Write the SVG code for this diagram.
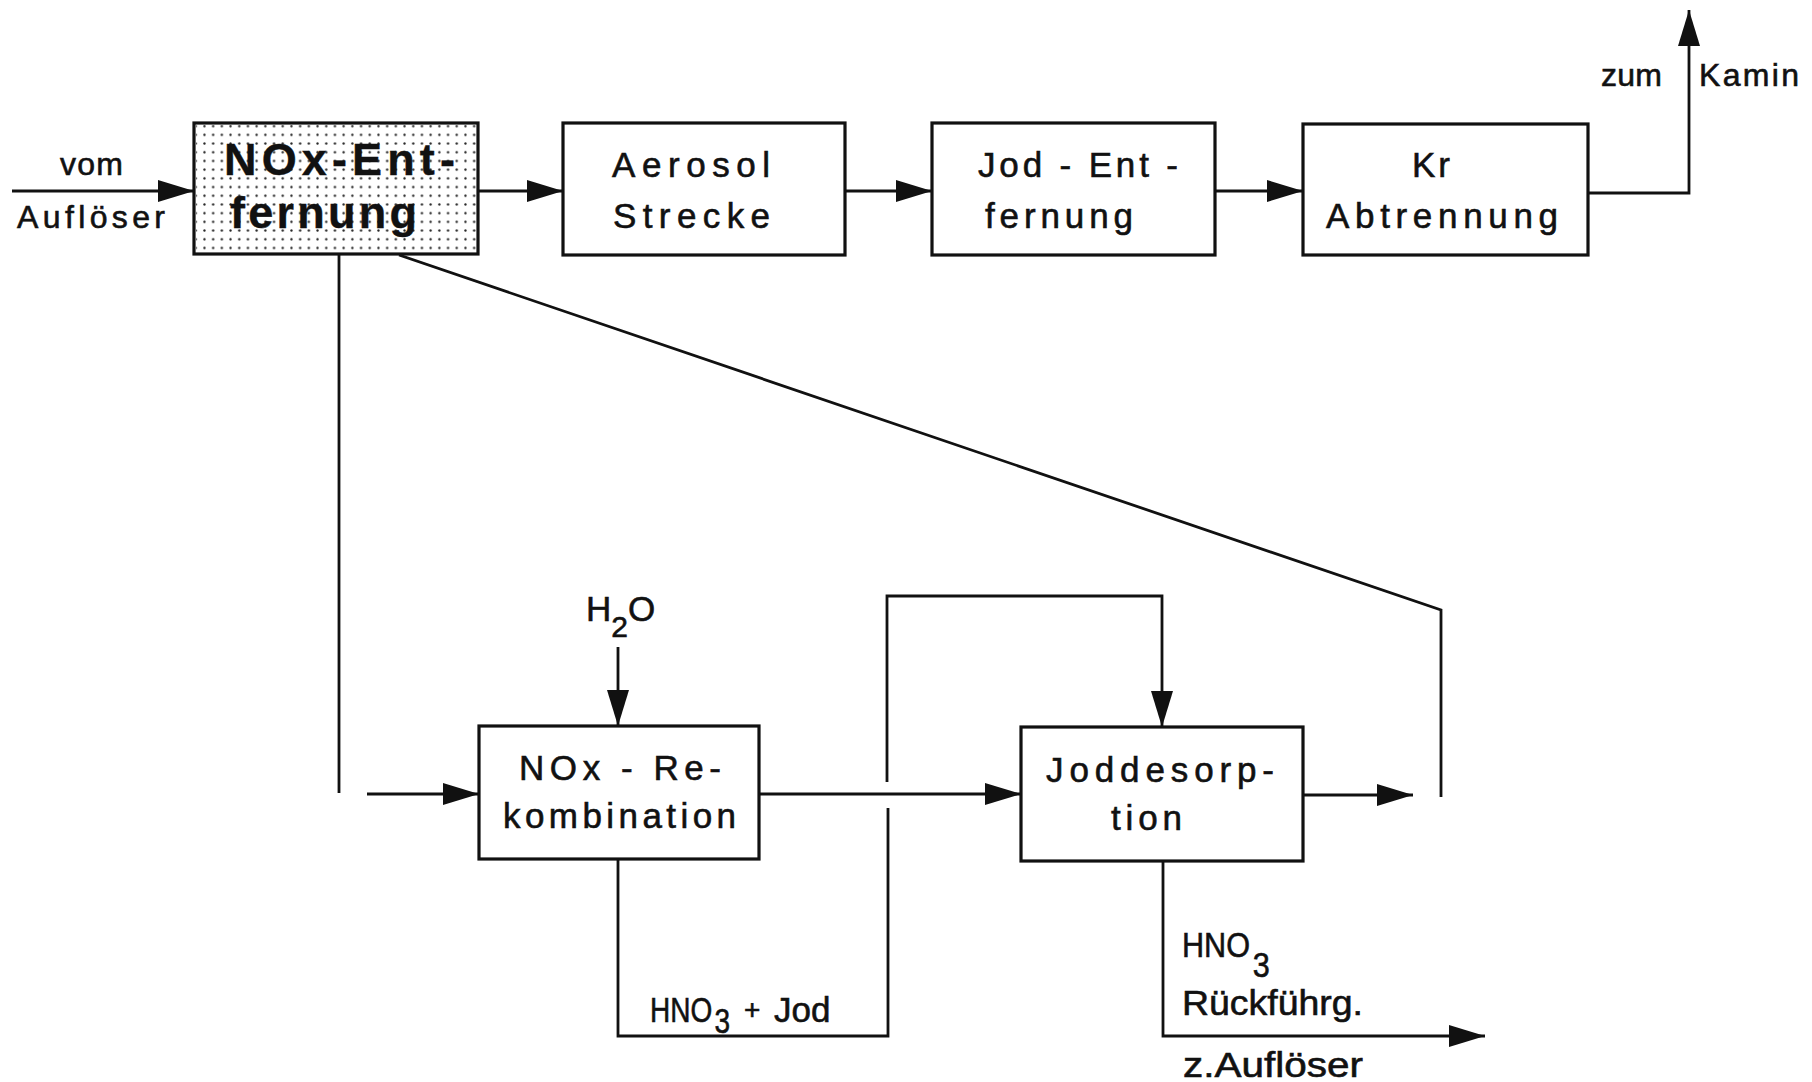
<svg xmlns="http://www.w3.org/2000/svg" width="1812" height="1082" viewBox="0 0 1812 1082">
  <defs>
    <!-- dotted screen used for the NOx removal stage -->
    <pattern id="dots" width="8.7" height="8.7" patternUnits="userSpaceOnUse">
      <circle cx="4.35" cy="4.35" r="1.15" fill="#222"/>
    </pattern>
    <marker id="arrow" viewBox="0 0 36 22" refX="36" refY="11" markerWidth="36" markerHeight="22" markerUnits="userSpaceOnUse" orient="auto">
      <path d="M0,0 L36,11 L0,22 z" fill="#111"/>
    </marker>
    <style>
      .box { fill: #fff; stroke: #111; stroke-width: 3.2; }
      .line { fill: none; stroke: #111; stroke-width: 2.8; stroke-linejoin: miter; }
      .arr { marker-end: url(#arrow); }
      text { font-family: "Liberation Sans", Arial, sans-serif; fill: #111; stroke: #111; stroke-width: 0.6; }
      .t35 { font-size: 35px; }
      .t32 { font-size: 32px; }
      .t28 { font-size: 28px; }
      .big { font-size: 45px; font-weight: bold; stroke-width: 0.4; }
    </style>
  </defs>

  <rect width="1812" height="1082" fill="#fff"/>

  <!-- process connectors -->
  <g id="connectors">
    <line class="line arr" x1="12" y1="191" x2="194" y2="191"/>
    <line class="line arr" x1="478" y1="191" x2="563" y2="191"/>
    <line class="line arr" x1="845" y1="191" x2="932" y2="191"/>
    <line class="line arr" x1="1215" y1="191" x2="1303" y2="191"/>
    <polyline class="line arr" points="1588,193 1689,193 1689,10"/>

    <line class="line" x1="339" y1="255" x2="339" y2="793"/>
    <line class="line arr" x1="367" y1="794" x2="479" y2="794"/>
    <line class="line arr" x1="618" y1="647" x2="618" y2="726"/>
    <line class="line arr" x1="759" y1="794" x2="1021" y2="794"/>
    <polyline class="line arr" points="887,782 887,596 1162,596 1162,727"/>
    <polyline class="line" points="618,859 618,1036 888,1036 888,808"/>
    <line class="line arr" x1="1303" y1="795" x2="1413" y2="795"/>
    <polyline class="line" points="399,255 1441,610 1441,797"/>
    <polyline class="line arr" points="1163,861 1163,1036 1485,1036"/>
  </g>

  <!-- top row: off-gas treatment chain -->
  <g id="nox-removal">
    <rect class="box" x="194" y="123" width="284" height="131"/>
    <rect x="196" y="125" width="280" height="127" fill="url(#dots)"/>
    <text class="big" x="224" y="175" textLength="231" lengthAdjust="spacing">NOx-Ent-</text>
    <text class="big" x="230" y="228" textLength="187" lengthAdjust="spacing">fernung</text>
  </g>
  <g id="aerosol">
    <rect class="box" x="563" y="123" width="282" height="132"/>
    <text class="t35" x="612" y="177" textLength="158" lengthAdjust="spacing">Aerosol</text>
    <text class="t35" x="613" y="228" textLength="157" lengthAdjust="spacing">Strecke</text>
  </g>
  <g id="iodine-removal">
    <rect class="box" x="932" y="123" width="283" height="132"/>
    <text class="t35" x="978" y="177" textLength="200" lengthAdjust="spacing">Jod - Ent -</text>
    <text class="t35" x="985" y="228" textLength="148" lengthAdjust="spacing">fernung</text>
  </g>
  <g id="kr-separation">
    <rect class="box" x="1303" y="124" width="285" height="131"/>
    <text class="t35" x="1412" y="177" textLength="38" lengthAdjust="spacing">Kr</text>
    <text class="t35" x="1326" y="228" textLength="232" lengthAdjust="spacing">Abtrennung</text>
  </g>

  <!-- bottom row: recombination and iodine desorption -->
  <g id="nox-recombination">
    <rect class="box" x="479" y="726" width="280" height="133"/>
    <text class="t35" x="519" y="780" textLength="202" lengthAdjust="spacing">NOx - Re-</text>
    <text class="t35" x="503" y="828" textLength="233" lengthAdjust="spacing">kombination</text>
  </g>
  <g id="iodine-desorption">
    <rect class="box" x="1021" y="727" width="282" height="134"/>
    <text class="t35" x="1046" y="782" textLength="228" lengthAdjust="spacing">Joddesorp-</text>
    <text class="t35" x="1111" y="830" textLength="71" lengthAdjust="spacing">tion</text>
  </g>

  <!-- stream labels -->
  <g id="labels">
    <text class="t32" x="60" y="175" textLength="63" lengthAdjust="spacing">vom</text>
    <text class="t32" x="17" y="228" textLength="148" lengthAdjust="spacing">Auflöser</text>
    <text class="t32" x="1601" y="86" textLength="61" lengthAdjust="spacing">zum</text>
    <text class="t32" x="1699" y="86" textLength="100" lengthAdjust="spacing">Kamin</text>

    <text class="t35" x="586" y="621">H<tspan dy="16" font-size="30">2</tspan><tspan dy="-16">O</tspan></text>

    <!-- condensed lettering for the liquid streams -->
    <text class="t35" transform="translate(650 1022) scale(0.8 1)">HNO<tspan dx="3" dy="11">3</tspan></text>
    <text class="t28" x="744" y="1019">+</text>
    <text class="t35" x="774" y="1022">Jod</text>

    <text class="t35" transform="translate(1182 957) scale(0.875 1)">HNO<tspan dx="3" dy="20">3</tspan></text>
    <text class="t35" x="1182" y="1015" textLength="181" lengthAdjust="spacingAndGlyphs">Rückführg.</text>
    <text class="t35" x="1183" y="1077" textLength="180" lengthAdjust="spacingAndGlyphs">z.Auflöser</text>
  </g>
</svg>
